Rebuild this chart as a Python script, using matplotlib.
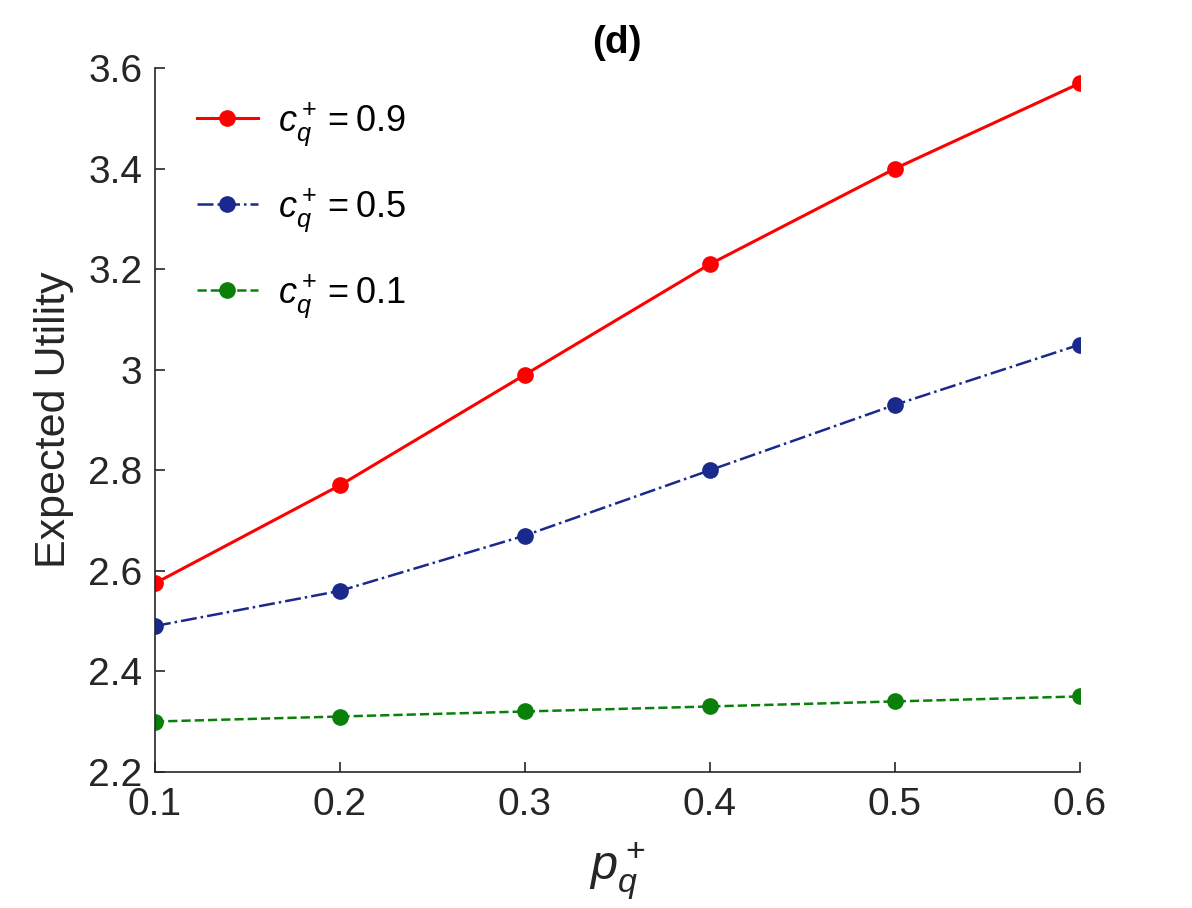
import numpy as np
import matplotlib
matplotlib.use('Agg')
import matplotlib.pyplot as plt

plt.rcParams['font.family'] = ['Liberation Sans', 'DejaVu Sans']
plt.rcParams['mathtext.fontset'] = 'custom'
plt.rcParams['mathtext.rm'] = 'Liberation Sans'
plt.rcParams['mathtext.it'] = 'Liberation Sans:italic'

p_q = [0.1, 0.2, 0.3, 0.4, 0.5, 0.6]
eu_c09 = [2.575, 2.77, 2.99, 3.21, 3.40, 3.57]
eu_c05 = [2.49, 2.56, 2.67, 2.80, 2.93, 3.05]
eu_c01 = [2.30, 2.31, 2.32, 2.33, 2.34, 2.35]
labels = [r'$c_q^+ = 0.9$', r'$c_q^+ = 0.5$', r'$c_q^+ = 0.1$']

fig = plt.figure(figsize=(11.92, 9.08), dpi=100)
ax = fig.add_axes([0.130, 0.150, 0.776, 0.775])

ax.plot(p_q, eu_c09, '-', color='#ff0000', lw=2.2, marker='o', ms=11, label=labels[0])
ax.plot(p_q, eu_c05, '-.', color='#1a2a8c', lw=1.8, marker='o', ms=11, label=labels[1])
ax.plot(p_q, eu_c01, '--', color='#0a800a', lw=1.8, marker='o', ms=11, label=labels[2])

ax.set_xlim(0.1, 0.6)
ax.set_ylim(2.2, 3.6)
ax.set_xticks(p_q)
ax.set_yticks([2.2, 2.4, 2.6, 2.8, 3.0, 3.2, 3.4, 3.6])
ax.set_yticklabels(['2.2', '2.4', '2.6', '2.8', '3', '3.2', '3.4', '3.6'])
ax.tick_params(direction='in', labelsize=28, length=7, width=1.2, colors='#262626', pad=9)
ax.tick_params(axis='x', pad=11)
ax.spines['top'].set_visible(False)
ax.spines['right'].set_visible(False)
for s in ['left', 'bottom']:
    ax.spines[s].set_linewidth(1.2)
    ax.spines[s].set_color('#262626')

ax.set_xlabel(r'$p_q^+$', fontsize=35, color='#262626', labelpad=12)
ax.set_ylabel('Expected Utility', fontsize=31, color='#262626', labelpad=10)
fig.text(617 / 1192, 1 - 53 / 908, '(d)', fontsize=28, fontweight='bold',
         ha='center', va='baseline')

ax.legend(loc='upper left', frameon=False, fontsize=26, handlelength=1.7,
          handletextpad=0.55, labelspacing=1.05, bbox_to_anchor=(0.01, 1.0))

fig.savefig('out.png', dpi=100)
